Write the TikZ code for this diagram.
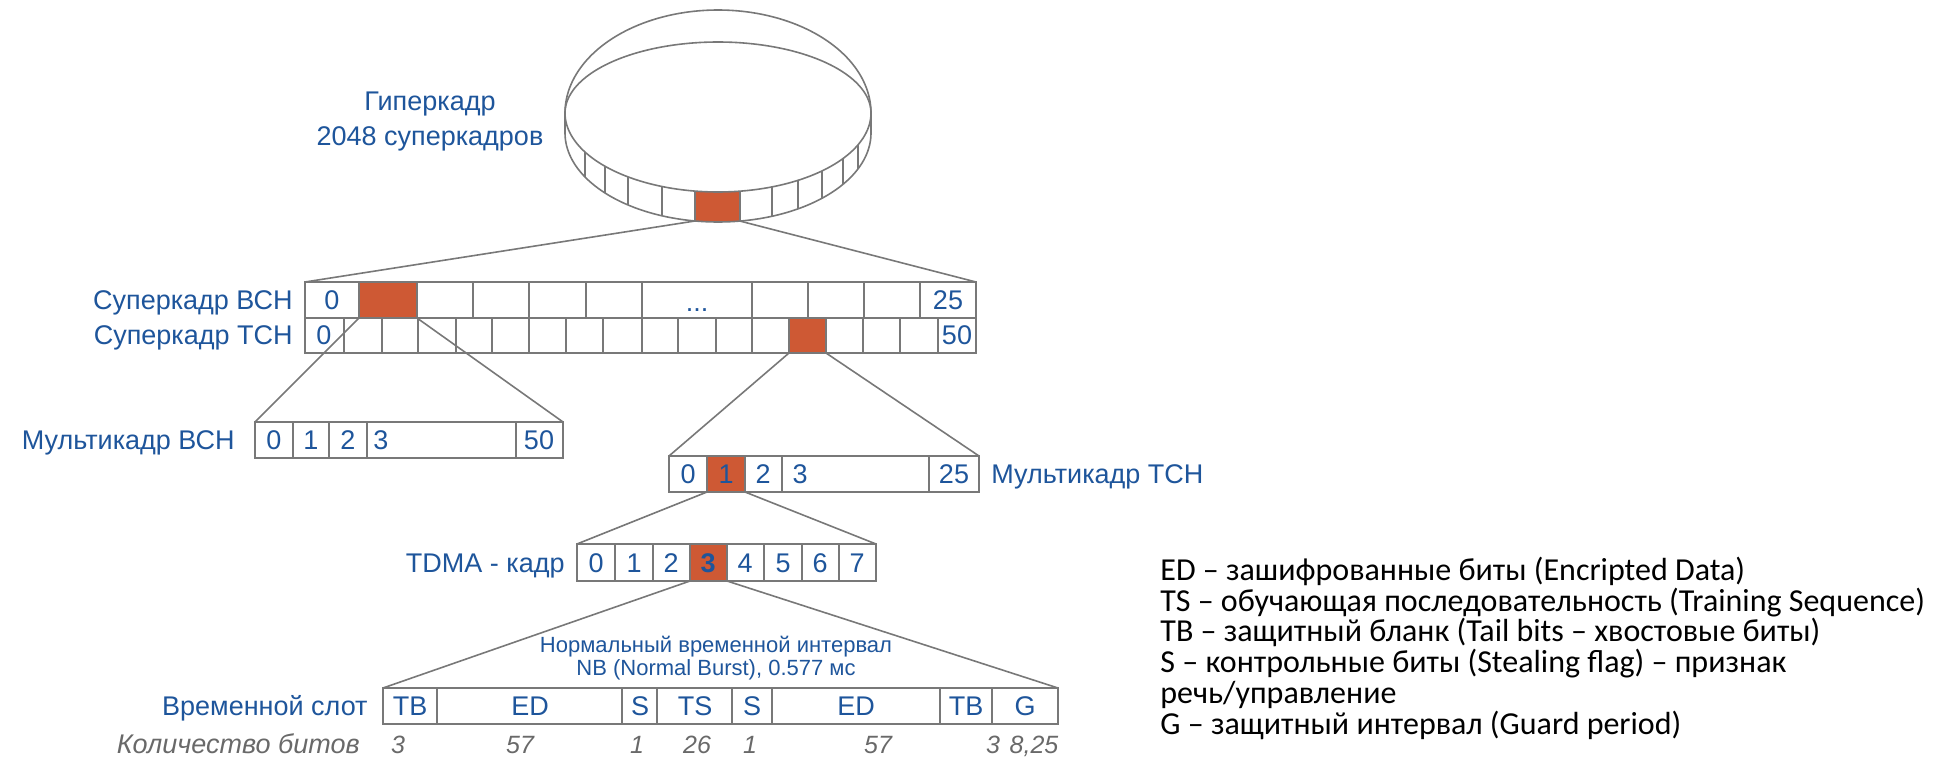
\documentclass[tikz,border=0pt]{standalone}
\usepackage{fontspec}
\setmainfont{Liberation Sans}
\newfontfamily\legendfont{Carlito}
\definecolor{tblue}{RGB}{30,85,155}
\definecolor{cred}{RGB}{206,89,52}
\definecolor{lgray}{RGB}{120,120,120}
\definecolor{bgray}{RGB}{105,105,105}
\begin{document}
\begin{tikzpicture}[x=0.5pt,y=-0.5pt,
  line/.style={draw=lgray, line width=0.8pt},
  conn/.style={draw=lgray, line width=0.8pt},
  rowbox/.style={draw=lgray, line width=0.8pt, inner sep=0pt, outer sep=0pt, anchor=north west},
  redcell/.style={fill=cred, draw=lgray, line width=0.8pt, inner sep=0pt, outer sep=0pt, anchor=north west},
  lbl/.style={text=tblue, font=\fontsize{13.5pt}{15pt}\selectfont, inner sep=0pt, text height=9.6pt, text depth=0pt},
  smalllbl/.style={text=tblue, font=\fontsize{11pt}{13pt}\selectfont, inner sep=0pt, text height=7.9pt, text depth=0pt},
  bits/.style={text=bgray, font=\fontsize{12.5pt}{14pt}\selectfont\itshape, inner sep=0pt, text height=8.9pt, text depth=0pt},
  legend/.style={font=\legendfont\fontsize{16pt}{15pt}\selectfont, inner sep=0pt, anchor=base west},
]
\useasboundingbox (0,0) rectangle (1942,759);

% ---------------- hyperframe ring ----------------
\pgfmathsetmacro\ta{acos((695-718)/153)}
\pgfmathsetmacro\tb{acos((740-718)/153)}
\fill[cred] plot[domain=\tb:\ta, samples=12] ({718+153*cos(\x)},{113+79*sin(\x)})
  -- plot[domain=\ta:\tb, samples=12] ({718+153*cos(\x)},{133+89*sin(\x)}) -- cycle;
\draw[line] plot[domain=180:360, samples=90] ({718+153*cos(\x)},{113+103*sin(\x)});
\draw[line] plot[domain=0:180, samples=90] ({718+153*cos(\x)},{113+79*sin(\x)});
\draw[line] plot[domain=180:360, samples=90] ({718+153*cos(\x)},{113+71*sin(\x)});
\draw[line] plot[domain=0:180, samples=90] ({718+153*cos(\x)},{133+89*sin(\x)});
\draw[line] (565,113) -- (565,133);
\draw[line] (871,113) -- (871,133);
\foreach \xx in {585,605,628,662,695,740,772,798,822,843,858} {
  \pgfmathsetmacro\tang{acos((\xx-718)/153)}
  \draw[line] (\xx,{113+79*sin(\tang)}) -- (\xx,{133+89*sin(\tang)});
}
\coordinate (ringL) at (695,{133+89*sin(\ta)});
\coordinate (ringR) at (740,{133+89*sin(\tb)});
\node[lbl] (hyp1) at (430,101) {Гиперкадр};
\node[lbl] (hyp2) at (430,136) {2048 суперкадров};

% ---------------- superframes ----------------
\node[rowbox, minimum width={(976-305)*0.5pt}, minimum height={(318-282)*0.5pt}] (bch) at (305,282) {};
\node[rowbox, minimum width={(976-305)*0.5pt}, minimum height={(353-318)*0.5pt}] (tch) at (305,318) {};
\foreach \xx in {359,417,473,529,586,642,752,808,864,920}
  \draw[line] (\xx,282) -- (\xx,318);
\foreach \xx in {344,382,418,456,492,529,566,603,642,678,716,752,789,826,863,900,938}
  \draw[line] (\xx,318) -- (\xx,353);
\node[redcell, minimum width={(417-359)*0.5pt}, minimum height={(318-282)*0.5pt}] (bchred) at (359,282) {};
\node[redcell, minimum width={(826-789)*0.5pt}, minimum height={(353-318)*0.5pt}] (tchred) at (789,318) {};
\node[lbl] (b0) at (332,300) {0};
\node[lbl] (bdots) at (697,302) {...};
\node[lbl] (b25) at (948,300) {25};
\node[lbl] (t0) at (324,335) {0};
\node[lbl] (t50) at (957,335) {50};
\node[lbl, anchor=east] (lbch) at (293,300) {Суперкадр ВСН};
\node[lbl, anchor=east] (ltch) at (293,335) {Суперкадр ТСН};

\draw[conn] (ringL) -- (bch.north west);
\draw[conn] (ringR) -- (bch.north east);

% ---------------- multiframe BCH ----------------
\node[rowbox, minimum width={(563-255)*0.5pt}, minimum height={(458-422)*0.5pt}] (mbch) at (255,422) {};
\foreach \xx in {293,329,367,516}
  \draw[line] (\xx,422) -- (\xx,458);
\node[lbl] (mb0) at (274,440) {0};
\node[lbl] (mb1) at (311,440) {1};
\node[lbl] (mb2) at (348,440) {2};
\node[lbl] (mb3) at (381,440) {3};
\node[lbl] (mb50) at (539,440) {50};
\node[lbl, anchor=east] (lmbch) at (235,440) {Мультикадр ВСН};
\draw[conn] (bchred.south west) -- (mbch.north west);
\draw[conn] (bchred.south east) -- (mbch.north east);

% ---------------- multiframe TCH ----------------
\node[rowbox, minimum width={(979-669)*0.5pt}, minimum height={(492-456)*0.5pt}] (mtch) at (669,456) {};
\foreach \xx in {782,929}
  \draw[line] (\xx,456) -- (\xx,492);
\node[redcell, minimum width={(745-707)*0.5pt}, minimum height={(492-456)*0.5pt}] (mtchred) at (707,456) {};
\node[lbl] (mt0) at (688,474) {0};
\node[lbl] (mt1) at (726,474) {1};
\node[lbl] (mt2) at (763,474) {2};
\node[lbl] (mt3) at (800,474) {3};
\node[lbl] (mt25) at (954,474) {25};
\node[lbl, anchor=west] (lmtch) at (991,474) {Мультикадр ТСН};
\draw[conn] (tchred.south west) -- (mtch.north west);
\draw[conn] (tchred.south east) -- (mtch.north east);

% ---------------- TDMA frame ----------------
\node[rowbox, minimum width={(876-577)*0.5pt}, minimum height={(581-544)*0.5pt}] (tdma) at (577,544) {};
\foreach \xx in {615,653,764,802,839}
  \draw[line] (\xx,544) -- (\xx,581);
\node[redcell, minimum width={(727-690)*0.5pt}, minimum height={(581-544)*0.5pt}] (tdmared) at (690,544) {};
\foreach \i/\xx in {0/596,1/634,2/671,4/745,5/783,6/820,7/857}
  \node[lbl] (td\i) at (\xx,563) {\i};
\node[lbl, font=\fontsize{13.5pt}{15pt}\selectfont\bfseries] (td3) at (708,563) {3};
\node[lbl, anchor=east] (ltdma) at (565,563) {TDMA - кадр};
\draw[conn] (mtchred.south west) -- (tdma.north west);
\draw[conn] (mtchred.south east) -- (tdma.north east);

% ---------------- time slot ----------------
\node[rowbox, minimum width={(1058-383)*0.5pt}, minimum height={(724-688)*0.5pt}] (slot) at (383,688) {};
\foreach \xx in {437,622,657,732,772,940,992}
  \draw[line] (\xx,688) -- (\xx,724);
\foreach \n/\xx/\t in {s1/410/TB,s2/530/ED,s3/640/S,s4/695/TS,s5/752/S,s6/856/ED,s7/966/TB,s8/1025/G}
  \node[lbl] (\n) at (\xx,706) {\t};
\node[lbl, anchor=east] (lslot) at (368,706) {Временной слот};
\draw[conn] (tdmared.south west) -- (slot.north west);
\draw[conn] (tdmared.south east) -- (slot.north east);
\node[smalllbl] (nb1) at (716,645) {Нормальный временной интервал};
\node[smalllbl] (nb2) at (716,668) {NB (Normal Burst), 0.577 мс};

% bits
\foreach \n/\xx/\t in {c1/398/3,c2/520/57,c3/637/1,c4/697/26,c5/750/1,c6/878/57,c7/993/3,c8/1034/{8,25}}
  \node[bits] (\n) at (\xx,745) {\t};
\node[bits, anchor=east, font=\fontsize{13.5pt}{15pt}\selectfont\itshape] (lbits) at (360,745) {Количество битов};

% ---------------- legend ----------------
\node[legend] (lg1) at (1160,580) {ED – зашифрованные биты (Encripted Data)};
\node[legend] (lg2) at (1160,611) {TS – обучающая последовательность (Training Sequence)};
\node[legend] (lg3) at (1160,641) {TB – защитный бланк (Tail bits – хвостовые биты)};
\node[legend] (lg4) at (1160,672) {S – контрольные биты (Stealing flag) – признак};
\node[legend] (lg5) at (1160,703) {речь/управление};
\node[legend] (lg6) at (1160,734) {G – защитный интервал (Guard period)};
\end{tikzpicture}
\end{document}
